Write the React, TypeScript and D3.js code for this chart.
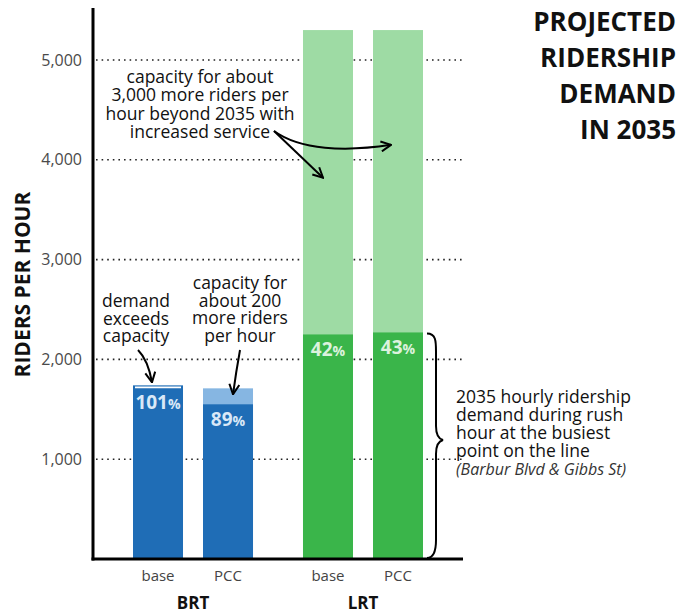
import React from "react";
import * as d3 from "d3";

const groups = ["BRT", "LRT"];
const options = ["base", "PCC"];
const capacity = [1720, 1710, 5300, 5300];
const demand = [1740, 1550, 2250, 2270];
const pctNumbers = ["101", "89", "42", "43"];
const yTicks = [1000, 2000, 3000, 4000, 5000];
const titleLines = ["PROJECTED", "RIDERSHIP", "DEMAND", "IN 2035"];
const bigNote = ["capacity for about", "3,000 more riders per", "hour beyond 2035 with", "increased service"];
const exceedNote = ["demand", "exceeds", "capacity"];
const spareNote = ["capacity for", "about 200", "more riders", "per hour"];
const braceNote = ["2035 hourly ridership", "demand during rush", "hour at the busiest", "point on the line"];
const braceNoteItalic = "(Barbur Blvd & Gibbs St)";

const W = 691;
const H = 614;
const FONT = "'Open Sans', 'Noto Sans', sans-serif";

const colors = {
  BRT: { dark: "#1f6db6", light: "#86b6e2", text: "#d9e8f7" },
  LRT: { dark: "#3ab54a", light: "#9edba4", text: "#dcf2de" },
};

function MultiLine({ lines, x, y, dy, anchor, size, fill, italicLast }: {
  lines: string[]; x: number; y: number; dy: number; anchor: string; size: number; fill: string; italicLast?: string;
}) {
  return (
    <text x={x} y={y} textAnchor={anchor} fontSize={size} fill={fill}>
      {lines.map((l, i) => (
        <tspan key={i} x={x} dy={i === 0 ? 0 : dy}>{l}</tspan>
      ))}
      {italicLast && (
        <tspan x={x} dy={dy} fontStyle="italic" fontSize={16} fill="#333">{italicLast}</tspan>
      )}
    </text>
  );
}

export default function App() {
  const y = d3.scaleLinear().domain([0, 5000]).range([559, 60]);
  const outer = d3.scaleBand().domain(groups).range([133, 423]).paddingInner(0.294);
  const inner = d3.scaleBand().domain(options).range([0, outer.bandwidth()]).paddingInner(0.2857);
  const axisX = 93;
  const axisRight = 463;

  const bars = groups.flatMap((g, gi) =>
    options.map((o, oi) => {
      const i = gi * options.length + oi;
      return { g, o, i, x: (outer(g) as number) + (inner(o) as number), w: inner.bandwidth() };
    })
  );
  const cx = (i: number) => bars[i].x + bars[i].w / 2;

  const lineGen = d3.line();

  const noteX = 200;
  const arrowStart: [number, number] = [274, 131];
  const arrow1End: [number, number] = [cx(2) - 5, y(3820)];
  const arrow2End: [number, number] = [cx(3) - 7, y(4150)];

  const curve2 = d3.path();
  curve2.moveTo(arrowStart[0], arrowStart[1]);
  curve2.bezierCurveTo(300, 150, 345, 152, arrow2End[0], arrow2End[1]);

  const exArrow = d3.path();
  exArrow.moveTo(cx(0) - 20, 350);
  exArrow.quadraticCurveTo(cx(0) - 10, 360, cx(0) - 6, y(demand[0]) - 3);

  const spArrow = d3.path();
  spArrow.moveTo(cx(1) + 12, 350);
  spArrow.quadraticCurveTo(cx(1) + 8, 372, cx(1) + 5, y(capacity[1]) + 6);

  const bTop = y(demand[3]) + 1;
  const bBot = y(0) - 1;
  const bx = bars[3].x + bars[3].w + 4;
  const bMid = 440;
  const brace = d3.path();
  brace.moveTo(bx, bTop);
  brace.bezierCurveTo(bx + 9, bTop, bx + 9, bTop + 8, bx + 9, bTop + 18);
  brace.lineTo(bx + 9, bMid - 14);
  brace.bezierCurveTo(bx + 9, bMid - 4, bx + 12, bMid - 1, bx + 16, bMid);
  brace.bezierCurveTo(bx + 12, bMid + 1, bx + 9, bMid + 4, bx + 9, bMid + 14);
  brace.lineTo(bx + 9, bBot - 18);
  brace.bezierCurveTo(bx + 9, bBot - 6, bx + 6, bBot, bx, bBot);

  const noteSize = 17.5;

  return (
    <svg width={W} height={H} style={{ position: "absolute", left: 0, top: 0, background: "#fff" }} fontFamily={FONT}>
      <defs>
        <marker id="vhead" viewBox="0 0 12 12" refX="11" refY="6" markerWidth="12" markerHeight="12" markerUnits="userSpaceOnUse" orient="auto">
          <path d="M1,1 L11,6 L1,11" fill="none" stroke="#000" strokeWidth={2} />
        </marker>
      </defs>

      {yTicks.map((t) => (
        <line key={t} x1={axisX + 3} x2={axisRight} y1={y(t)} y2={y(t)} stroke="#222" strokeWidth={1.6} strokeDasharray="1.6 4" />
      ))}

      {bars.map((b) => {
        const c = colors[b.g as "BRT" | "LRT"];
        return (
          <g key={b.i}>
            <rect x={b.x} width={b.w} y={y(capacity[b.i])} height={y(0) - y(capacity[b.i])} fill={c.light} />
            <rect x={b.x} width={b.w} y={y(demand[b.i])} height={y(0) - y(demand[b.i])} fill={c.dark} />
            {demand[b.i] > capacity[b.i] && (
              <line x1={b.x + 2} x2={b.x + b.w - 2} y1={y(capacity[b.i])} y2={y(capacity[b.i])} stroke="#fff" strokeWidth={1.8} />
            )}
            <text x={b.x + b.w / 2} y={y(Math.min(demand[b.i], capacity[b.i])) + 22} textAnchor="middle" fill={c.text} fontWeight={700}>
              <tspan fontSize={19}>{pctNumbers[b.i]}</tspan>
              <tspan fontSize={14}>%</tspan>
            </text>
            <text x={b.x + b.w / 2} y={581} textAnchor="middle" fontSize={15} fill="#444">{b.o}</text>
          </g>
        );
      })}

      <line x1={axisX} x2={axisX} y1={8} y2={y(0) + 1.5} stroke="#000" strokeWidth={3} />
      <line x1={axisX - 1.5} x2={axisRight} y1={y(0)} y2={y(0)} stroke="#000" strokeWidth={3} />
      {yTicks.map((t) => (
        <text key={t} x={82} y={y(t) + 5.5} textAnchor="end" fontSize={16} fill="#4a4a4a">{d3.format(",")(t)}</text>
      ))}
      <text transform={`translate(30,${y(2750)}) rotate(-90)`} textAnchor="middle" fontSize={21} fontWeight={700} fill="#111">RIDERS PER HOUR</text>

      {groups.map((g) => (
        <text key={g} x={(outer(g) as number) + outer.bandwidth() / 2} y={609} textAnchor="middle" fontSize={17} fontWeight={700} fill="#111">{g}</text>
      ))}

      <text x={676} y={31} textAnchor="end" fontSize={26} fontWeight={700} fill="#111">
        {titleLines.map((l, i) => (
          <tspan key={l} x={676} dy={i === 0 ? 0 : 36}>{l}</tspan>
        ))}
      </text>

      <MultiLine lines={bigNote} x={noteX} y={83} dy={18.3} anchor="middle" size={noteSize} fill="#111" />
      <path d={lineGen([arrowStart, arrow1End]) || ""} fill="none" stroke="#000" strokeWidth={2} markerEnd="url(#vhead)" />
      <path d={curve2.toString()} fill="none" stroke="#000" strokeWidth={2} markerEnd="url(#vhead)" />

      <MultiLine lines={exceedNote} x={cx(0) - 22} y={307} dy={17.5} anchor="middle" size={noteSize} fill="#111" />
      <path d={exArrow.toString()} fill="none" stroke="#000" strokeWidth={2} markerEnd="url(#vhead)" />

      <MultiLine lines={spareNote} x={cx(1) + 12} y={289} dy={17.7} anchor="middle" size={noteSize} fill="#111" />
      <path d={spArrow.toString()} fill="none" stroke="#000" strokeWidth={2} markerEnd="url(#vhead)" />

      <path d={brace.toString()} fill="none" stroke="#000" strokeWidth={2} />
      <MultiLine lines={braceNote} x={456} y={403} dy={18} anchor="start" size={noteSize} fill="#111" italicLast={braceNoteItalic} />
    </svg>
  );
}
